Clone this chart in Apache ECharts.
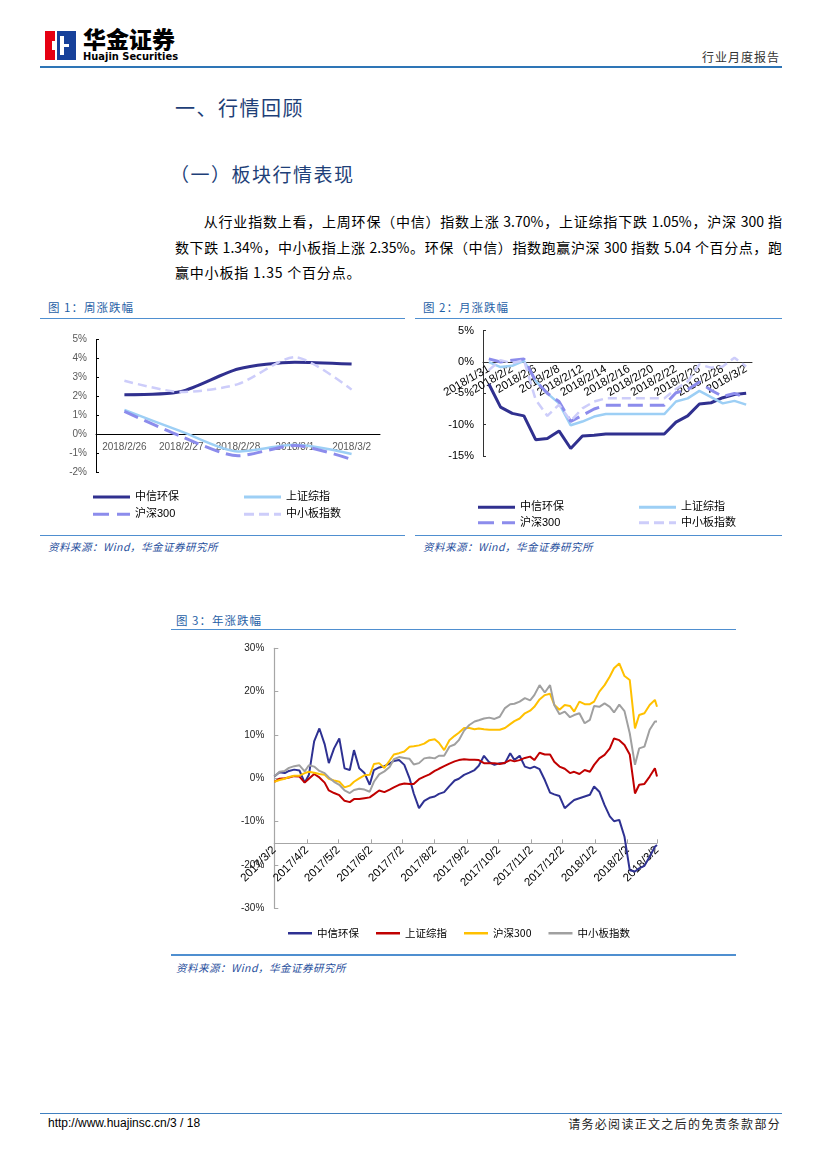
<!DOCTYPE html>
<html><head><meta charset="utf-8">
<script src="https://cdn.jsdelivr.net/npm/echarts@6/dist/echarts.min.js"></script>
<style>
html,body{margin:0;padding:0;background:#fff;}
body{width:827px;height:1169px;position:relative;overflow:hidden;font-family:"Noto Sans CJK SC","Liberation Sans",sans-serif;color:#000;}
.a{position:absolute;white-space:nowrap;}
.hl{position:absolute;background:#4f8fd0;height:1.5px;}
.figt{position:absolute;white-space:nowrap;font-size:11.5px;letter-spacing:1px;color:#1f5fa6;line-height:14px;}
.src{position:absolute;white-space:nowrap;font-size:10.5px;font-style:italic;color:#1f4e9c;line-height:13px;letter-spacing:0.5px;}
.body{position:absolute;left:175px;width:607px;font-size:14px;line-height:18px;}
.just{text-align:justify;text-align-last:justify;}
.chart{position:absolute;}
</style></head><body>

<!-- header -->
<div class="a" style="left:45px;top:31px;width:10px;height:29px;background:#e60012;"></div>
<div class="a" style="left:57px;top:31px;width:19px;height:29px;background:#17419a;"></div>
<div class="a" style="left:60px;top:36px;width:4px;height:19px;background:#fff;"></div>
<div class="a" style="left:60px;top:44px;width:9px;height:3px;background:#fff;"></div>
<div class="a" style="left:52px;top:41px;width:5px;height:9px;background:#fff;"></div>
<div class="a" style="left:83px;top:26px;font-size:23px;line-height:25px;font-weight:900;letter-spacing:0px;">华金证券</div>
<div class="a" style="left:83px;top:51px;font-size:11px;line-height:11px;font-weight:bold;font-family:'Liberation Sans Narrow','DejaVu Sans Condensed',sans-serif;">Huajin Securities</div>
<div class="a" style="right:47px;top:49px;font-size:12px;line-height:16px;letter-spacing:1px;color:#333;">行业月度报告</div>
<div class="a" style="left:40px;top:66px;width:742px;height:2px;background:#2e75b6;"></div>

<!-- headings -->
<div class="a" style="left:175px;top:95px;font-size:20px;line-height:26px;letter-spacing:1.5px;color:#1e3f78;">一、行情回顾</div>
<div class="a" style="left:170px;top:161px;font-size:19px;line-height:26px;letter-spacing:1.5px;color:#1e3f78;">（一）板块行情表现</div>

<div class="body just" style="top:212px;"><span style="display:inline-block;width:28px;"></span>从行业指数上看，上周环保（中信）指数上涨 3.70%，上证综指下跌 1.05%，沪深 300 指</div>
<div class="body just" style="top:238px;">数下跌 1.34%，中小板指上涨 2.35%。环保（中信）指数跑赢沪深 300 指数 5.04 个百分点，跑</div>
<div class="body" style="top:263px;letter-spacing:0.8px;">赢中小板指 1.35 个百分点。</div>

<!-- figure 1 / 2 frames -->
<div class="figt" style="left:48px;top:300px;">图 1：周涨跌幅</div>
<div class="hl" style="left:40px;top:317.5px;width:365px;"></div>
<div class="figt" style="left:423px;top:300px;">图 2：月涨跌幅</div>
<div class="hl" style="left:415px;top:317.5px;width:367px;"></div>
<div id="c1" class="chart" style="left:40px;top:320px;width:370px;height:213px;"></div>
<div id="c2" class="chart" style="left:415px;top:320px;width:370px;height:213px;"></div>
<div class="hl" style="left:40px;top:534.5px;width:365px;"></div>
<div class="hl" style="left:415px;top:534.5px;width:367px;"></div>
<div class="src" style="left:48px;top:540px;">资料来源：Wind，华金证券研究所</div>
<div class="src" style="left:423px;top:540px;">资料来源：Wind，华金证券研究所</div>

<!-- figure 3 -->
<div class="figt" style="left:176px;top:613px;">图 3：年涨跌幅</div>
<div class="hl" style="left:171px;top:628.5px;width:565px;"></div>
<div id="c3" class="chart" style="left:170px;top:635px;width:565px;height:318px;"></div>
<div class="hl" style="left:171px;top:954px;width:565px;"></div>
<div class="src" style="left:176px;top:961px;">资料来源：Wind，华金证券研究所</div>

<!-- footer -->
<div class="a" style="left:40px;top:1112.5px;width:742px;height:1.5px;background:#3f7fbf;"></div>
<div class="a" style="left:48px;top:1116px;font-size:12px;line-height:15px;font-family:'Liberation Sans',Arial,sans-serif;">http://www.huajinsc.cn/3 / 18</div>
<div class="a" style="right:46px;top:1116px;font-size:12px;line-height:15px;letter-spacing:1.3px;color:#222;">请务必阅读正文之后的免责条款部分</div>

<script>
// ---------- shared names ----------
const seriesNames = ['中信环保', '上证综指', '沪深300', '中小板指数'];

// ---------- figure 1: weekly change (%) ----------
const weekDates = ['2018/2/26', '2018/2/27', '2018/2/28', '2018/3/1', '2018/3/2'];
const weekEnv   = [2.08, 2.25, 3.44, 3.80, 3.70];
const weekSH    = [1.28, 0.14, -0.92, -0.57, -1.05];
const weekHS300 = [1.20, -0.13, -1.15, -0.60, -1.34];
const weekSME   = [2.82, 2.22, 2.64, 4.07, 2.35];
const weekTicks = [-2, -1, 0, 1, 2, 3, 4, 5];

// ---------- figure 2: monthly change (%) ----------
const monthDates = ['2018/1/31', '2018/2/1', '2018/2/2', '2018/2/5', '2018/2/6', '2018/2/7', '2018/2/8', '2018/2/9',
  '2018/2/12', '2018/2/13', '2018/2/14', '2018/2/15', '2018/2/16', '2018/2/19', '2018/2/20', '2018/2/21',
  '2018/2/22', '2018/2/23', '2018/2/26', '2018/2/27', '2018/2/28', '2018/3/1', '2018/3/2'];
const monthEnv   = [-3.5, -7.2, -8.2, -8.6, -12.4, -12.2, -11.0, -13.8, -11.8, -11.7, -11.5, -11.5, -11.5, -11.5, -11.5, -11.5, -9.6, -8.6, -6.7, -6.5, -5.7, -5.2, -5.0];
const monthSH    = [0.0, -0.8, -0.6, 0.2, -3.0, -5.0, -6.6, -10.1, -9.5, -8.7, -8.3, -8.3, -8.3, -8.3, -8.3, -8.3, -6.3, -5.8, -4.6, -5.6, -6.6, -6.2, -6.8];
const monthHS300 = [0.5, 0.0, 0.3, 0.5, -3.0, -5.0, -6.3, -9.5, -8.5, -7.5, -6.9, -6.9, -6.9, -6.9, -6.9, -6.9, -4.9, -4.4, -3.2, -4.5, -5.5, -5.0, -5.7];
const monthSME   = [-1.3, 0.3, -0.2, 0.3, -6.0, -8.6, -6.8, -9.4, -7.4, -6.3, -5.8, -5.8, -5.8, -5.8, -5.8, -5.8, -4.3, -3.1, -0.4, -0.9, -0.7, 0.7, -0.7];

// ---------- figure 3: yearly change (%) ----------
const yearStart = '2017/3/2';
// calendar-day offsets from 2017/3/2 of sampled points
const yearDays = [0, 5, 10, 14, 19, 24, 29, 33, 38, 43, 48, 52, 57, 62, 67, 72, 76, 81, 86, 91, 95, 100, 105, 110, 114, 119, 124, 129, 133, 138, 143, 148, 153, 157, 162, 167, 172, 176, 181, 186, 191, 195, 200, 205, 210,
  215, 220, 225, 229, 234, 239, 244, 248, 253, 258, 263, 267, 272, 277, 282, 286, 291, 296, 301, 305, 310, 315, 320, 324, 329, 334, 339, 344, 348, 353, 358, 363, 365];
const yearEnv = [0.4, 1.4, 1.2, 1.7, 2.0, 1.8, -1.0, 0.8, 8.5, 11.5, 7.9, 3.5, 6.9, 9.2, 2.3, 1.9, 6.5, 2.3, 1.2, -1.5, 1.9, 2.5, 2.8, 3.4, 4.0, 4.2, 3.1, 0.0, -3.5, -6.9, -5.2, -4.5, -4.2, -3.6, -3.2, -1.8, -0.5, -0.1, 0.8, 1.3, 1.9, 2.9, 5.2, 3.7, 3.1,
  3.5, 3.5, 5.8, 4.2, 5.2, 2.7, 2.3, 2.7, 2.1, -0.4, -3.3, -3.7, -4.1, -6.9, -5.8, -5.0, -4.6, -4.2, -3.8, -1.9, -3.1, -6.2, -8.8, -9.9, -9.6, -13.5, -21.2, -21.5, -20.8, -20.2, -18.1, -15.8, -15.4];
const yearSH = [-0.8, -0.1, 0.0, 0.2, 0.5, 0.4, -1.0, -0.1, 1.0, 0.2, -1.0, -2.8, -3.4, -3.9, -5.2, -5.5, -4.8, -4.8, -4.6, -4.4, -3.7, -2.8, -3.2, -2.6, -2.1, -1.5, -1.2, -1.3, -1.3, -0.2, 0.4, 0.9, 1.7, 2.2, 2.8, 3.4, 3.9, 4.2, 4.4, 4.3, 4.3, 4.2, 3.5, 3.5, 3.5,
  3.3, 3.6, 4.2, 3.9, 4.2, 4.7, 5.0, 4.2, 5.9, 5.5, 5.5, 3.8, 2.7, 2.2, 1.2, 1.5, 1.0, 1.9, 1.5, 3.1, 4.6, 5.4, 6.9, 9.2, 8.8, 7.7, 5.5, -3.5, -1.5, -1.3, 0.4, 2.3, 0.4];
const yearHS300 = [-0.8, -0.4, -0.1, 0.3, 0.6, 0.6, 1.2, 1.5, 1.3, 1.0, 0.8, -0.1, -0.5, -0.8, -2.1, -1.7, -0.8, 0.0, 0.7, 0.8, 3.3, 3.5, 2.4, 4.1, 5.5, 5.8, 6.2, 7.3, 7.4, 7.6, 8.0, 8.8, 9.0, 8.2, 6.5, 8.8, 9.8, 10.5, 11.6, 11.6, 11.3, 11.5, 11.3, 11.2, 11.2,
  11.2, 11.6, 12.5, 13.2, 13.8, 15.0, 15.6, 16.5, 18.2, 19.2, 19.5, 17.0, 15.8, 16.9, 16.7, 15.4, 17.7, 17.1, 17.1, 17.7, 20.0, 21.5, 23.5, 25.4, 26.5, 23.6, 22.7, 11.5, 14.6, 15.0, 16.9, 18.1, 16.5];
const yearSME = [0.4, 1.5, 1.7, 2.4, 2.8, 3.0, 1.6, 3.0, 2.7, 1.7, 1.2, 0.2, -0.8, -1.5, -2.8, -3.4, -2.7, -2.4, -2.6, -3.1, -0.8, 0.9, 1.6, 2.6, 4.4, 4.9, 4.7, 4.5, 3.2, 3.5, 4.6, 4.8, 4.6, 5.2, 5.2, 7.3, 7.8, 8.8, 11.0, 12.3, 13.1, 13.4, 13.8, 14.0, 13.7,
  14.2, 16.2, 17.1, 17.2, 17.7, 18.5, 18.0, 19.2, 21.5, 19.8, 21.5, 16.9, 14.8, 15.4, 14.1, 14.6, 15.0, 12.7, 13.5, 16.7, 16.5, 17.3, 16.5, 15.2, 17.0, 15.5, 10.4, 3.1, 6.9, 7.3, 11.2, 13.1, 13.1];
const yearTickLabels = ['2017/3/2', '2017/4/2', '2017/5/2', '2017/6/2', '2017/7/2', '2017/8/2', '2017/9/2', '2017/10/2', '2017/11/2', '2017/12/2', '2018/1/2', '2018/2/2', '2018/3/2'];

// ---------- helpers ----------
const FONT = '"Liberation Sans", Arial, "Noto Sans CJK SC", sans-serif';
function dayOffset(label) {
  const p = label.split('/').map(Number), s = yearStart.split('/').map(Number);
  return Math.round((Date.UTC(p[0], p[1] - 1, p[2]) - Date.UTC(s[0], s[1] - 1, s[2])) / 86400000);
}
const yearTickDays = yearTickLabels.map(dayOffset);

const C_NAVY = '#30308f', C_LB = '#9dcff5', C_PUR = '#8c8cec', C_LAV = '#cdcdfa';
const ICON_SOLID = 'rect';
const ICON_LONGDASH = 'path://M0,0h16v1h-16z M24,0h13v1h-13z';
const ICON_DASH = 'path://M0,0h10v1h-10z M15,0h10v1h-10z M30,0h7v1h-7z';
const smallIcons = [ICON_SOLID, ICON_SOLID, ICON_LONGDASH, ICON_DASH];

function smallLineSeries(data, smooth) {
  const styles = [
    { color: C_NAVY, width: 3, type: 'solid' },
    { color: C_LB, width: 2.5, type: 'solid' },
    { color: C_PUR, width: 3, type: [15, 7] },
    { color: C_LAV, width: 2.5, type: [9, 5] }
  ];
  return data.map((d, i) => ({
    name: seriesNames[i], type: 'line', data: d, symbol: 'none', smooth: smooth,
    itemStyle: { color: styles[i].color },
    lineStyle: { color: styles[i].color, width: styles[i].width, type: styles[i].type }
  }));
}
function twoColLegend(leftA, leftB, top, gap) {
  const common = {
    orient: 'vertical', top: top, padding: 0, itemWidth: 37, itemHeight: 3, itemGap: gap,
    symbolKeepAspect: false,
    textStyle: { fontSize: 11, color: '#000', fontFamily: FONT }
  };
  const item = i => ({ name: seriesNames[i], icon: smallIcons[i] });
  return [
    Object.assign({ left: leftA, data: [item(0), item(2)] }, common),
    Object.assign({ left: leftB, data: [item(1), item(3)] }, common)
  ];
}

// ---------- chart 1 ----------
const c1 = echarts.init(document.getElementById('c1'));
const g1 = { left: 56, top: 19.5, width: 284, height: 132.4 };
const w1Min = weekTicks[0], w1Max = weekTicks[weekTicks.length - 1];
c1.setOption({
  animation: false,
  textStyle: { fontFamily: FONT },
  grid: g1,
  xAxis: {
    type: 'category', data: weekDates,
    offset: -g1.height * (0 - w1Min) / (w1Max - w1Min),
    axisLine: { onZero: false, lineStyle: { color: '#000', width: 1 } },
    axisTick: { inside: true, length: 4, lineStyle: { color: '#000' } },
    axisLabel: { color: '#595959', fontSize: 10, margin: 8, interval: 0 }
  },
  yAxis: {
    type: 'value', min: w1Min, max: w1Max, interval: 1,
    axisLine: { show: true, lineStyle: { color: '#000' } },
    axisTick: { show: true, inside: true, length: 3, lineStyle: { color: '#000' } },
    splitLine: { show: false },
    axisLabel: { formatter: '{value}%', color: '#595959', fontSize: 10, margin: 9 }
  },
  legend: twoColLegend(53, 204, 171.5, 6.3),
  series: smallLineSeries([weekEnv, weekSH, weekHS300, weekSME], 0.25)
});

// ---------- chart 2 ----------
const c2 = echarts.init(document.getElementById('c2'));
const g2 = { left: 68, top: 10.7, width: 269, height: 125.3 };
const m2Min = -15, m2Max = 5;
c2.setOption({
  animation: false,
  textStyle: { fontFamily: FONT },
  grid: g2,
  xAxis: {
    type: 'category', data: monthDates,
    offset: -g2.height * (0 - m2Min) / (m2Max - m2Min),
    axisLine: { onZero: false, lineStyle: { color: '#333', width: 1 } },
    axisTick: { inside: true, length: 3, interval: 0, lineStyle: { color: '#333' } },
    axisLabel: { color: '#000', fontSize: 11.5, rotate: 30, interval: 1, margin: 6 }
  },
  yAxis: {
    type: 'value', min: m2Min, max: m2Max, interval: 5,
    axisLine: { show: true, lineStyle: { color: '#333' } },
    axisTick: { show: true, inside: true, length: 3, lineStyle: { color: '#333' } },
    splitLine: { show: false },
    axisLabel: { formatter: '{value}%', color: '#000', fontSize: 11, margin: 9 }
  },
  legend: twoColLegend(63, 224, 181.8, 4.4),
  series: smallLineSeries([monthEnv, monthSH, monthHS300, monthSME], false)
});

// ---------- chart 3 ----------
const c3 = echarts.init(document.getElementById('c3'));
const yearColors = ['#2e3192', '#c00000', '#ffc000', '#a0a0a0'];
const yearData = [yearEnv, yearSH, yearHS300, yearSME];
c3.setOption({
  animation: false,
  textStyle: { fontFamily: FONT },
  grid: { left: 104.3, top: 13.3, width: 382.7, height: 260 },
  xAxis: {
    type: 'value', min: 0, max: yearTickDays[yearTickDays.length - 1], offset: -65,
    axisLine: { onZero: false, lineStyle: { color: '#a6a6a6', width: 1.2 } },
    axisTick: { show: true, inside: true, length: 4, customValues: yearTickDays, lineStyle: { color: '#a6a6a6' } },
    splitLine: { show: false },
    axisLabel: {
      customValues: yearTickDays, rotate: 45, fontSize: 11.5, color: '#000', margin: 5,
      formatter: v => yearTickLabels[yearTickDays.indexOf(Math.round(v))] || ''
    }
  },
  yAxis: {
    type: 'value', min: -30, max: 30, interval: 10,
    axisLine: { show: true, onZero: false, lineStyle: { color: '#a6a6a6', width: 1.2 } },
    axisTick: { show: true, inside: true, length: 4, lineStyle: { color: '#a6a6a6' } },
    splitLine: { show: false },
    axisLabel: { formatter: '{value}%', color: '#222', fontSize: 10, margin: 10 }
  },
  legend: {
    left: 118, top: 293, padding: 0, itemWidth: 24, itemHeight: 2.5, itemGap: 17,
    icon: 'rect', symbolKeepAspect: false,
    textStyle: { fontSize: 10.5, color: '#000', fontFamily: '"Noto Sans CJK SC", "Liberation Sans", sans-serif' },
    data: seriesNames
  },
  series: yearData.map((d, i) => ({
    name: seriesNames[i], type: 'line', symbol: 'none',
    data: yearDays.map((x, k) => [x, d[k]]),
    itemStyle: { color: yearColors[i] },
    lineStyle: { color: yearColors[i], width: 2 }
  }))
});
</script>
</body></html>
